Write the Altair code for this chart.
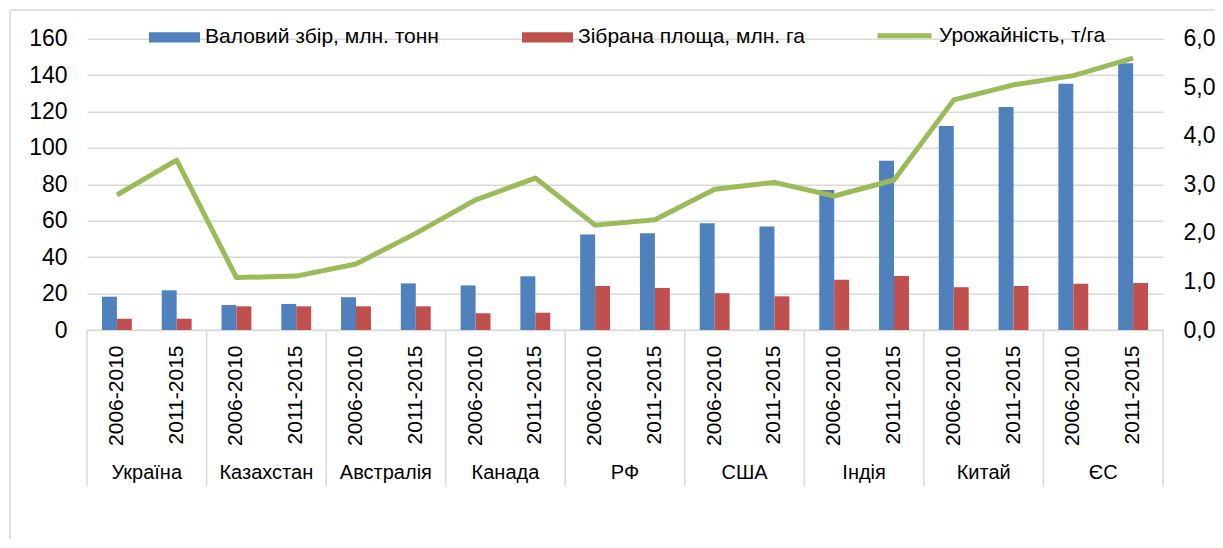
import altair as alt
import pandas as pd

countries = ["Україна", "Казахстан", "Австралія", "Канада", "РФ", "США", "Індія", "Китай", "ЄС"]
periods = ["2006-2010", "2011-2015"]
gross = [18.3, 21.8, 13.7, 14.3, 18.0, 25.6, 24.5, 29.5, 52.4, 53.1,
         58.6, 56.8, 76.9, 93.0, 112.1, 122.5, 135.2, 146.5]
area = [6.2, 6.2, 13.0, 13.0, 13.0, 13.0, 9.2, 9.5, 24.2, 23.1,
        20.2, 18.5, 27.6, 29.7, 23.5, 24.2, 25.4, 25.8]
yields = [2.78, 3.50, 1.08, 1.11, 1.36, 1.99, 2.68, 3.13, 2.16, 2.27,
          2.90, 3.04, 2.76, 3.09, 4.74, 5.05, 5.24, 5.60]

s_gross = "Валовий збір, млн. тонн"
s_area = "Зібрана площа, млн. га"
s_yield = "Урожайність, т/га"
bar_series = [s_gross, s_area]

keys = [f"{c}|{p}" for c in countries for p in periods]

bars = pd.DataFrame(
    [{"key": k, "series": s_gross, "value": v} for k, v in zip(keys, gross)]
    + [{"key": k, "series": s_area, "value": v} for k, v in zip(keys, area)]
)
line_df = pd.DataFrame({"key": keys, "yield": yields, "name": s_yield})
country_df = pd.DataFrame({"key": [f"{c}|{periods[1]}" for c in countries], "country": countries})
sep_df = pd.DataFrame({"key": [f"{c}|{periods[0]}" for c in countries]})
sep_end_df = pd.DataFrame({"key": [keys[-1]]})

W = 1076
H = 291.3
GRID = "#d9d9d9"

xscale = alt.Scale(domain=keys, paddingInner=0, paddingOuter=0)

x_axis = alt.Axis(
    title=None, labelExpr="split(datum.label, '|')[1]", labelAngle=-90,
    ticks=False, domainColor=GRID, domainWidth=1.5, labelFontSize=21,
    labelPadding=15, labelColor="black", labelOverlap=False,
)

bar_layer = alt.Chart(bars).mark_bar().encode(
    x=alt.X("key:N", sort=keys, scale=xscale, axis=x_axis),
    xOffset=alt.XOffset("series:N", sort=bar_series,
                        scale=alt.Scale(domain=bar_series, paddingInner=0, paddingOuter=1)),
    y=alt.Y("value:Q", scale=alt.Scale(domain=[0, 160], nice=False),
            axis=alt.Axis(values=list(range(0, 161, 20)), title=None, domain=False,
                          ticks=False, gridColor=GRID, gridWidth=1.5, labelFontSize=23,
                          labelPadding=20, labelColor="black")),
    color=alt.Color("series:N", sort=bar_series,
                    scale=alt.Scale(domain=bar_series, range=["#4F81BD", "#C0504D"]),
                    legend=alt.Legend(title=None, orient="none", legendX=62, legendY=-27,
                                      direction="horizontal",
                                      symbolType="M-1,-0.2H1V0.2H-1Z", symbolSize=2601,
                                      symbolStrokeWidth=0, labelFontSize=21, labelOffset=5,
                                      columnPadding=83, padding=0, labelColor="black",
                                      labelLimit=400)),
)

line_layer = alt.Chart(line_df).mark_line(strokeWidth=5, strokeJoin="round").encode(
    x=alt.X("key:N", sort=keys),
    y=alt.Y("yield:Q", scale=alt.Scale(domain=[0, 6], nice=False),
            axis=alt.Axis(orient="right", values=[0, 1, 2, 3, 4, 5, 6], title=None,
                          labelExpr="replace(format(datum.value, '.1f'), '.', ',')",
                          grid=False, domain=False, ticks=False, labelPadding=20,
                          labelFontSize=23, labelColor="black")),
    stroke=alt.Stroke("name:N", scale=alt.Scale(domain=[s_yield], range=["#9BBB59"]),
                      legend=alt.Legend(title=None, orient="none", legendX=788, legendY=-32.5,
                                        symbolType="M-1,0H1", symbolSize=2916,
                                        symbolStrokeWidth=5, labelFontSize=21, labelOffset=5,
                                        padding=0, labelColor="black", labelLimit=400)),
)

left = alt.layer(bar_layer, line_layer).resolve_scale(y="independent", color="independent")

country_layer = alt.Chart(country_df).mark_text(fontSize=20, baseline="middle", color="black").encode(
    x=alt.X("key:N", sort=keys, bandPosition=0),
    y=alt.value(434),
    text="country:N",
)

sep_layer = alt.Chart(sep_df).mark_rule(color=GRID, strokeWidth=1.5).encode(
    x=alt.X("key:N", sort=keys, bandPosition=0),
    y=alt.value(H),
    y2=alt.value(447.3),
)
sep_end_layer = alt.Chart(sep_end_df).mark_rule(color=GRID, strokeWidth=1.5).encode(
    x=alt.X("key:N", sort=keys, bandPosition=1),
    y=alt.value(H),
    y2=alt.value(447.3),
)

border = alt.Chart(alt.Data(values=[{"b": 1}])).mark_rect(
    fill=None, stroke=GRID, strokeWidth=1.5
).encode(
    x=alt.value(-77), x2=alt.value(1150),
    y=alt.value(-28.7), y2=alt.value(600),
)

chart = alt.layer(
    border, left, sep_layer, sep_end_layer, country_layer
).properties(
    width=W, height=H,
    autosize=alt.AutoSizeParams(type="none"),
    padding={"left": 79, "top": 30.7, "right": 52, "bottom": 209},
).configure(
    font="Liberation Sans",
).configure_view(stroke=None)

chart.save("out.html", embed_options={"renderer": "svg", "actions": False})
